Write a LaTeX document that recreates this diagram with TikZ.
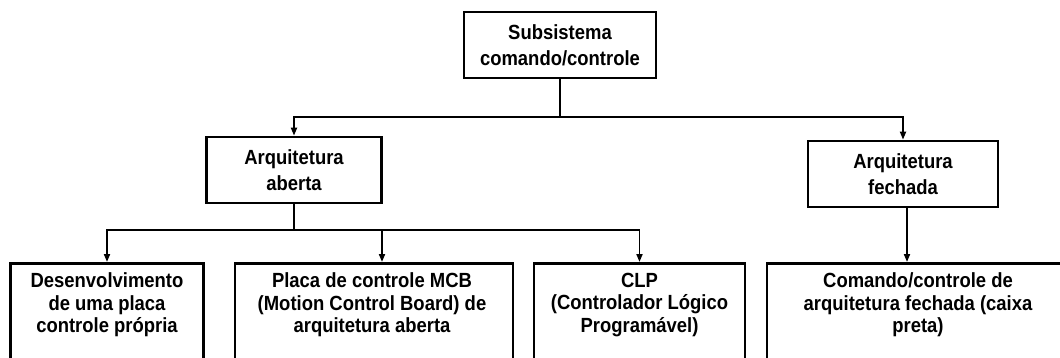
\documentclass[tikz,border=0pt]{standalone}
\usepackage{fontspec}
\setmainfont{Liberation Sans}[FakeStretch=0.9]
\usetikzlibrary{arrows.meta}
\begin{document}
\begin{tikzpicture}[x=1pt,y=-1pt,
  box/.style={draw, line width=2.7pt, rectangle, inner sep=0pt, align=center,
    minimum height=66pt, font=\fontsize{20.5}{26}\selectfont\bfseries},
  btm/.style={draw, line width=2.7pt, rectangle, inner sep=0pt, anchor=north, minimum height=130pt},
  btxt/.style={inner sep=0pt, anchor=north, align=center, font=\fontsize{20.5}{22.5}\selectfont\bfseries},
  conn/.style={line width=1.8pt},
  arr/.style={conn, -{Triangle[length=8pt,width=6pt]}}]
\useasboundingbox (0,0) rectangle (1060,358);
\clip (0,0) rectangle (1060,358);
% upper boxes
\node[box, minimum width=192pt] (top) at (560,45) {Subsistema\\comando/controle};
\node[box, minimum width=175pt] (ab) at (294,170) {Arquitetura\\aberta};
\node[box, minimum width=190pt] (fe) at (903,174) {Arquitetura\\fechada};
% bottom boxes
\node[btm, minimum width=193pt] (b1) at (107,262) {};
\node[btm, minimum width=278pt] (b2) at (374,262) {};
\node[btm, minimum width=211pt] (b3) at (639.5,262) {};
\node[btm, minimum width=302pt] (b4) at (918,262) {};
\node[btxt] (t1) at (107,272.5) {Desenvolvimento\\de uma placa\\controle própria};
\node[btxt] (t2) at (372,272.5) {Placa de controle MCB\\(Motion Control Board) de\\arquitetura aberta};
\node[btxt] (t3) at (639.5,272.5) {CLP\\(Controlador Lógico\\Programável)};
\node[btxt] (t4) at (918,272.5) {Comando/controle de\\arquitetura fechada (caixa\\preta)};
% connectors
\coordinate (j1) at (560,117);
\coordinate (j2) at (294,230);
\draw[conn] (top.south) -- (j1);
\draw[arr] (j1) -| (ab.north);
\draw[arr] (j1) -| (fe.north);
\draw[conn] (ab.south) -- (j2);
\draw[arr] (j2) -| (b1.north);
\draw[arr] (j2) -| ([xshift=8pt]b2.north);
\draw[arr] (j2) -| (b3.north);
\draw[arr] ([xshift=4pt]fe.south) -- ([xshift=4pt]fe.south |- b4.north);
\end{tikzpicture}
\end{document}
